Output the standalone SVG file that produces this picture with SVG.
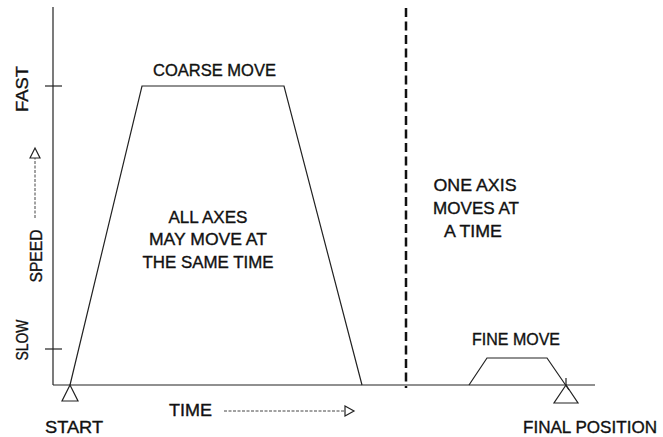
<svg xmlns="http://www.w3.org/2000/svg" width="663" height="437" viewBox="0 0 663 437">
<style>
.ln{fill:none;stroke:#222;stroke-width:1.2}
.t{font-family:"Liberation Sans",Arial,sans-serif;fill:#111;font-size:17px;stroke:#111;stroke-width:0.35}
.c{text-anchor:middle}
.dot{fill:none;stroke:#444;stroke-width:1;stroke-dasharray:3 1.5}
</style>
<rect width="663" height="437" fill="#fff"/>
<g id="axes">
<line class="ln" x1="53" y1="7" x2="53" y2="385"/>
<line class="ln" x1="53" y1="385" x2="595" y2="385"/>
<line class="ln" x1="45" y1="86" x2="62" y2="86"/>
<line class="ln" x1="45" y1="349" x2="62" y2="349"/>
<text class="t c" transform="translate(28,89) rotate(-90)" font-size="16" textLength="46" lengthAdjust="spacingAndGlyphs">FAST</text>
<text class="t c" transform="translate(28,340) rotate(-90)" font-size="16" textLength="41" lengthAdjust="spacingAndGlyphs">SLOW</text>
<text class="t c" transform="translate(42,256) rotate(-90)" font-size="19" textLength="53" lengthAdjust="spacingAndGlyphs">SPEED</text>
<line class="dot" x1="35" y1="218" x2="35" y2="158"/>
<path class="ln" stroke-width="1" d="M30,158 L35,148 L40,158 Z"/>
<text class="t" x="169" y="416" font-size="18" textLength="43" lengthAdjust="spacingAndGlyphs">TIME</text>
<line class="dot" x1="224" y1="411" x2="345" y2="411"/>
<path class="ln" stroke-width="1" d="M345,406 L354,411 L345,416 Z"/>
</g>
<g id="connectors">
<line x1="406" y1="8" x2="406" y2="388" stroke="#111" stroke-width="2.5" stroke-dasharray="9 4.5"/>
</g>
<g id="start">
<path class="ln" d="M70,385 L62,401 L78,401 Z"/>
<text class="t" x="45" y="433" font-size="17" textLength="58" lengthAdjust="spacingAndGlyphs">START</text>
</g>
<g id="coarse-move">
<path class="ln" d="M70,385 L142,86 L284,86 L362,385"/>
<text class="t c" x="214.5" y="76" font-size="17" textLength="123" lengthAdjust="spacingAndGlyphs">COARSE MOVE</text>
<text class="t c" x="208" y="223" textLength="79" lengthAdjust="spacingAndGlyphs">ALL AXES</text>
<text class="t c" x="208" y="245" textLength="118" lengthAdjust="spacingAndGlyphs">MAY MOVE AT</text>
<text class="t c" x="208" y="268" textLength="131" lengthAdjust="spacingAndGlyphs">THE SAME TIME</text>
</g>
<g id="one-axis">
<text class="t c" x="475" y="191" textLength="83" lengthAdjust="spacingAndGlyphs">ONE AXIS</text>
<text class="t c" x="476" y="214" textLength="86" lengthAdjust="spacingAndGlyphs">MOVES AT</text>
<text class="t c" x="473" y="237" textLength="58" lengthAdjust="spacingAndGlyphs">A TIME</text>
</g>
<g id="fine-move">
<path class="ln" d="M469,385 L487,358 L547,358 L569,390"/>
<line class="ln" x1="566" y1="378" x2="566" y2="385"/>
<text class="t c" x="516" y="345" font-size="16" textLength="88" lengthAdjust="spacingAndGlyphs">FINE MOVE</text>
</g>
<g id="final-position">
<path class="ln" d="M566,385 L554,403 L578,403 Z"/>
<text class="t" x="523" y="433" font-size="17" textLength="134" lengthAdjust="spacingAndGlyphs">FINAL POSITION</text>
</g>
</svg>
